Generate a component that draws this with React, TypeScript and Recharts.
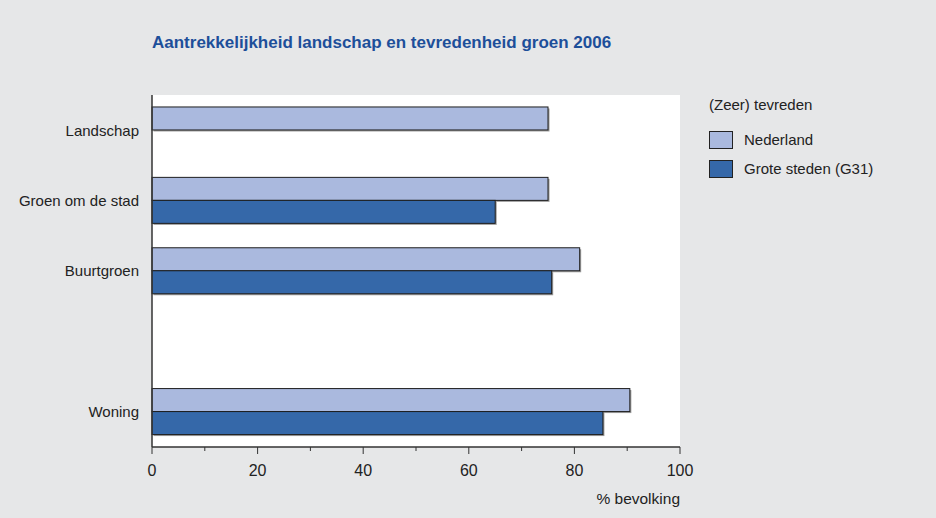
import React from 'react';
import { BarChart, Bar, XAxis, YAxis, CartesianGrid } from 'recharts';

const categories = ['Landschap', 'Groen om de stad', 'Buurtgroen', '', 'Woning'];
const nederland = [75, 75, 81, null, 90.5];
const groteSteden = [null, 65, 75.7, null, 85.4];
const xTicks = [0, 10, 20, 30, 40, 50, 60, 70, 80, 90, 100];
const legendTitle = '(Zeer) tevreden';

const chartData = categories.map((name, i) => ({
  name,
  nederland: nederland[i],
  groteSteden: groteSteden[i]
}));

const FONT = '"Liberation Sans", Arial, sans-serif';
const LIGHT = '#aab9de';
const DARK = '#3568a9';

const series = [
  { key: 'nederland', label: 'Nederland', color: LIGHT },
  { key: 'groteSteden', label: 'Grote steden (G31)', color: DARK }
];

const ShadowBar = (props: any) => {
  const { x, y, width, height, fill } = props;
  if (!width || width <= 0) return null;
  return (
    <g>
      <rect x={x + 1.5} y={y + 1.5} width={width} height={height} fill="#9a9a9a" />
      <rect x={x} y={y} width={width} height={height} fill={fill} stroke="#1e1e1e" strokeWidth={1} />
    </g>
  );
};

const XTick = (props: any) => {
  const { x, y, payload } = props;
  const major = payload.value % 20 === 0;
  return (
    <g>
      <line x1={x} x2={x} y1={y} y2={y + (major ? 7 : 4)} stroke="#333" strokeWidth={1} />
      {major && (
        <text x={x} y={y + 29} textAnchor="middle" fontSize={16} fill="#222" fontFamily={FONT}>
          {payload.value}
        </text>
      )}
    </g>
  );
};

const LegendBox = () => (
  <div style={{ position: 'absolute', left: 709, top: 96, fontFamily: FONT, fontSize: 15, color: '#222' }}>
    <div style={{ marginBottom: 12 }}>{legendTitle}</div>
    {series.map((item) => (
      <div key={item.key} style={{ display: 'flex', alignItems: 'center', height: 29 }}>
        <span
          style={{
            display: 'inline-block',
            width: 22,
            height: 16,
            background: item.color,
            border: '1px solid #222',
            marginRight: 11
          }}
        />
        {item.label}
      </div>
    ))}
  </div>
);

export default function App() {
  return (
    <div style={{ position: 'absolute', left: 0, top: 0, width: 936, height: 518, background: '#e6e7e8' }}>
      <div
        style={{
          position: 'absolute',
          left: 152,
          top: 33,
          fontFamily: FONT,
          fontWeight: 'bold',
          fontSize: 17,
          color: '#1d4f9a'
        }}
      >
        Aantrekkelijkheid landschap en tevredenheid groen 2006
      </div>
      <BarChart
        width={936}
        height={518}
        data={chartData}
        layout="vertical"
        margin={{ top: 95, right: 256, bottom: 0, left: 0 }}
        barCategoryGap="17%"
        barGap={0}
      >
        <CartesianGrid fill="#ffffff" horizontal={false} vertical={false} />
        <XAxis
          type="number"
          domain={[0, 100]}
          ticks={xTicks}
          interval={0}
          height={71}
          tickSize={0}
          tickMargin={0}
          tickLine={false}
          tick={<XTick />}
          axisLine={{ stroke: '#333', strokeWidth: 1.5 }}
          label={{
            value: '% bevolking',
            position: 'insideBottomRight',
            offset: 0,
            dy: -14,
            fontSize: 15.5,
            fill: '#222',
            fontFamily: FONT
          }}
        />
        <YAxis
          type="category"
          dataKey="name"
          width={152}
          interval={0}
          tickSize={0}
          tickMargin={13}
          tickLine={false}
          axisLine={{ stroke: '#333', strokeWidth: 1.5 }}
          tick={{ fontSize: 15, fill: '#222', fontFamily: FONT }}
        />
        {series.map((s) => (
          <Bar
            key={s.key}
            dataKey={s.key}
            name={s.label}
            fill={s.color}
            shape={<ShadowBar />}
            isAnimationActive={false}
          />
        ))}
      </BarChart>
      <LegendBox />
    </div>
  );
}
